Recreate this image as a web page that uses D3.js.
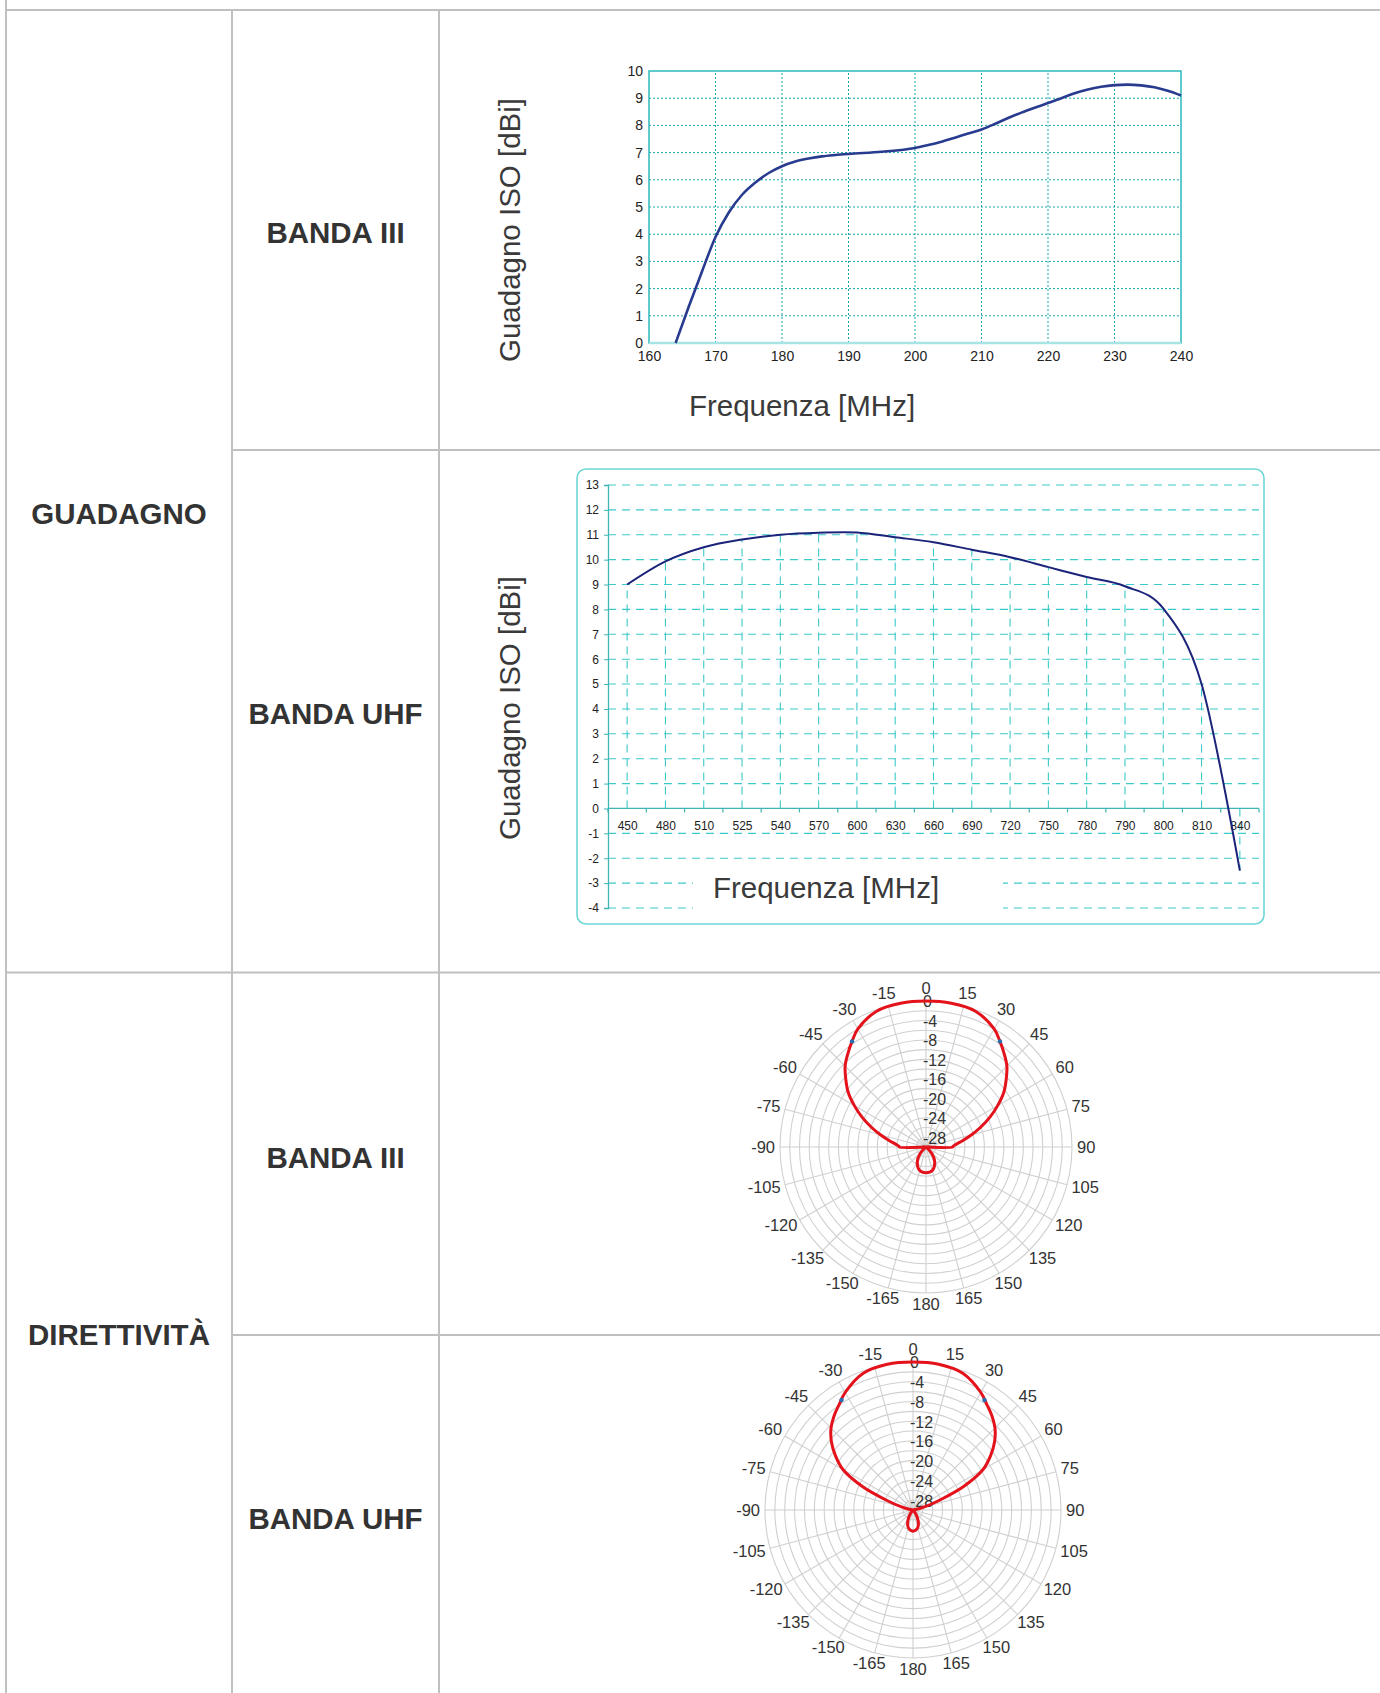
<!DOCTYPE html>
<html><head><meta charset="utf-8">
<script src="https://cdn.jsdelivr.net/npm/d3@7"></script>
<style>body{margin:0;background:#fff}svg{display:block}</style>
</head><body>
<svg id="c" width="1380" height="1693"></svg>
<script>
// ---------- DATA ----------
const bandIIIFreq = [164, 166, 168, 170, 172, 174, 176, 178, 180, 182, 184, 186, 188, 190, 195, 200, 202, 204, 206, 208, 210, 212, 214, 216, 218, 220, 222, 224, 226, 228, 230, 232, 234, 236, 238, 240];
const bandIIIGain = [0, 1.35, 2.65, 3.9, 4.8, 5.45, 5.9, 6.25, 6.5, 6.67, 6.78, 6.86, 6.91, 6.95, 7.03, 7.17, 7.28, 7.4, 7.55, 7.7, 7.85, 8.05, 8.27, 8.47, 8.65, 8.82, 9.0, 9.18, 9.32, 9.42, 9.48, 9.5, 9.47, 9.4, 9.27, 9.1];
const bandIIIXTicks = [160, 170, 180, 190, 200, 210, 220, 230, 240];
const bandIIIYTicks = [0, 1, 2, 3, 4, 5, 6, 7, 8, 9, 10];

const uhfFreqCats = ["450", "480", "510", "525", "540", "570", "600", "630", "660", "690", "720", "750", "780", "790", "800", "810", "840"];
const uhfGain = [9.0, 9.93, 10.5, 10.81, 11.0, 11.08, 11.09, 10.9, 10.7, 10.4, 10.1, 9.7, 9.3, 8.93, 8.04, 5.0, -2.5];
const uhfYTicks = [-4, -3, -2, -1, 0, 1, 2, 3, 4, 5, 6, 7, 8, 9, 10, 11, 12, 13];

const polarAngleLabels = [0, 15, 30, 45, 60, 75, 90, 105, 120, 135, 150, 165, 180, -165, -150, -135, -120, -105, -90, -75, -60, -45, -30, -15];
const polarRings = [-28, -26, -24, -22, -20, -18, -16, -14, -12, -10, -8, -6, -4, -2, 0];
const polarRingLabels = [0, -4, -8, -12, -16, -20, -24, -28];

// [angle deg, level dB]
const bandIIIPattern = [[-180, -24.7], [-165, -25], [-150, -26.4], [-138, -28.2], [-125, -30], [-90, -30], [-90, -24.5], [-89, -24.5], [-85, -23.8], [-80, -22.3], [-75, -20.3], [-70, -18], [-65, -15.5], [-60, -13], [-55, -10.5], [-50, -8.5], [-45, -6.5], [-40, -5], [-35, -3.5], [-30, -2], [-20, -0.3], [-10, 0], [0, 0], [10, 0], [20, -0.3], [30, -2], [35, -3.5], [40, -5], [45, -6.5], [50, -8.5], [55, -10.5], [60, -13], [65, -15.5], [70, -18], [75, -20.3], [80, -22.3], [85, -23.8], [89, -24.5], [90, -24.5], [90, -30], [125, -30], [138, -28.2], [150, -26.4], [165, -25]];
const bandIIIMarkers = [[-35, -3.5], [35, -3.5]];

const uhfPattern = [[-180, -25.7], [-165, -26.3], [-155, -27.5], [-145, -29], [-130, -30], [-90, -30], [-80, -29.2], [-75, -27.6], [-70, -24.5], [-65, -18.6], [-60, -13.6], [-55, -10.8], [-50, -8.4], [-45, -6.5], [-40, -5.1], [-35, -3.9], [-30, -2.5], [-20, -0.5], [-10, 0], [0, 0], [10, 0], [20, -0.5], [30, -2.5], [35, -3.9], [40, -5.1], [45, -6.5], [50, -8.4], [55, -10.8], [60, -13.6], [65, -18.6], [70, -24.5], [75, -27.6], [80, -29.2], [90, -30], [130, -30], [145, -29], [155, -27.5], [165, -26.3]];
const uhfMarkers = [[-33, -3.4], [33, -3.4]];

// ---------- DRAW ----------
const svg = d3.select('#c');
const FONT = 'Liberation Sans, Arial, Helvetica, sans-serif';
const fmt = d => String(d);
svg.append('rect').attr('width', 1380).attr('height', 1693).attr('fill', '#fff');

// table grid
const tbl = svg.append('g').attr('stroke', '#c0c0c0').attr('stroke-width', 2).attr('fill', 'none');
tbl.append('line').attr('x1', 6).attr('x2', 1380).attr('y1', 10).attr('y2', 10);
tbl.append('line').attr('x1', 6).attr('x2', 6).attr('y1', 0).attr('y2', 1693);
tbl.append('line').attr('x1', 232).attr('x2', 232).attr('y1', 10).attr('y2', 1693);
tbl.append('line').attr('x1', 439).attr('x2', 439).attr('y1', 10).attr('y2', 1693);
tbl.append('line').attr('x1', 232).attr('x2', 1380).attr('y1', 450).attr('y2', 450);
tbl.append('line').attr('x1', 6).attr('x2', 1380).attr('y1', 972.5).attr('y2', 972.5);
tbl.append('line').attr('x1', 232).attr('x2', 1380).attr('y1', 1335).attr('y2', 1335);

const cellLabels = [
  {t: 'GUADAGNO', x: 119, y: 524},
  {t: 'DIRETTIVITÀ', x: 119, y: 1345},
  {t: 'BANDA III', x: 335.5, y: 243},
  {t: 'BANDA UHF', x: 335.5, y: 724},
  {t: 'BANDA III', x: 335.5, y: 1168},
  {t: 'BANDA UHF', x: 335.5, y: 1529}
];
svg.selectAll('text.cell').data(cellLabels).join('text').attr('class', 'cell')
  .attr('x', d => d.x).attr('y', d => d.y).attr('text-anchor', 'middle')
  .attr('font-family', FONT).attr('font-weight', 'bold').attr('font-size', 29.5).attr('fill', '#333')
  .text(d => d.t);

// ---------- Chart 1: Banda III gain ----------
{
  const x = d3.scaleLinear().domain([160, 240]).range([649, 1181]);
  const y = d3.scaleLinear().domain([0, 10]).range([343, 71]);
  const g = svg.append('g');
  g.selectAll('line.vg').data(bandIIIXTicks.slice(1, -1)).join('line')
    .attr('x1', d => x(d)).attr('x2', d => x(d)).attr('y1', y(0)).attr('y2', y(10))
    .attr('stroke', '#1aa5a8').attr('stroke-width', 1).attr('stroke-dasharray', '2,2');
  g.selectAll('line.hg').data(bandIIIYTicks.slice(1, -1)).join('line')
    .attr('x1', x(160)).attr('x2', x(240)).attr('y1', d => y(d)).attr('y2', d => y(d))
    .attr('stroke', '#1aa5a8').attr('stroke-width', 1).attr('stroke-dasharray', '2,2');
  g.append('rect').attr('x', x(160)).attr('y', y(10)).attr('width', x(240) - x(160)).attr('height', y(0) - y(10))
    .attr('fill', 'none').attr('stroke', '#2bb8bb').attr('stroke-width', 1.5);
  g.append('line').attr('x1', x(160)).attr('x2', x(240)).attr('y1', y(0)).attr('y2', y(0))
    .attr('stroke', '#a8e4e4').attr('stroke-width', 2.5);
  const ya = g.append('g').attr('transform', `translate(${x(160)},0)`)
    .call(d3.axisLeft(y).tickValues(bandIIIYTicks).tickSize(0).tickPadding(6).tickFormat(fmt));
  const xa = g.append('g').attr('transform', `translate(0,${y(0)})`)
    .call(d3.axisBottom(x).tickValues(bandIIIXTicks).tickSize(0).tickPadding(8).tickFormat(fmt));
  [ya, xa].forEach(a => { a.select('.domain').remove(); a.selectAll('text').attr('font-family', FONT).attr('font-size', 14).attr('fill', '#222'); });
  const pts = bandIIIFreq.map((f, i) => [f, bandIIIGain[i]]);
  g.append('path').datum(pts)
    .attr('d', d3.line().x(d => x(d[0])).y(d => y(d[1])).curve(d3.curveMonotoneX))
    .attr('fill', 'none').attr('stroke', '#283b8f').attr('stroke-width', 2.6);
  g.append('text').attr('x', 802).attr('y', 416).attr('text-anchor', 'middle')
    .attr('font-family', FONT).attr('font-size', 29.5).attr('fill', '#3a3a3a').text('Frequenza [MHz]');
  g.append('text').attr('transform', 'translate(520,230) rotate(-90)').attr('text-anchor', 'middle')
    .attr('font-family', FONT).attr('font-size', 29.5).attr('fill', '#3a3a3a').text('Guadagno ISO [dBi]');
}

// ---------- Chart 2: UHF gain ----------
{
  const xb = d3.scaleBand().domain(uhfFreqCats).range([608, 1259]);
  const xp = d3.scalePoint().domain(uhfFreqCats).range([608, 1259]).padding(0.5);
  const y = d3.scaleLinear().domain([-4, 13]).range([908, 485]);
  const g = svg.append('g');
  g.append('rect').attr('x', 577).attr('y', 469).attr('width', 687).attr('height', 455).attr('rx', 9)
    .attr('fill', '#fff').attr('stroke', '#6fd6d6').attr('stroke-width', 1.6);
  g.selectAll('line.hg').data(uhfYTicks.filter(d => d !== 0)).join('line')
    .attr('x1', xb.range()[0]).attr('x2', xb.range()[1]).attr('y1', d => y(d)).attr('y2', d => y(d))
    .attr('stroke', '#3cc9c9').attr('stroke-width', 1.1).attr('stroke-dasharray', '8,6');
  // drop lines
  g.selectAll('line.drop').data(uhfFreqCats).join('line')
    .attr('x1', d => xp(d)).attr('x2', d => xp(d))
    .attr('y1', y(0)).attr('y2', (d, i) => y(uhfGain[i]))
    .attr('stroke', '#3cc9c9').attr('stroke-width', 1.1).attr('stroke-dasharray', '8,6');
  // label background
  g.append('rect').attr('x', 693).attr('y', 866).attr('width', 310).attr('height', 52).attr('fill', '#fff');
  g.append('text').attr('x', 826).attr('y', 898).attr('text-anchor', 'middle')
    .attr('font-family', FONT).attr('font-size', 29.5).attr('fill', '#3a3a3a').text('Frequenza [MHz]');
  const ya = g.append('g').attr('transform', `translate(608,0)`)
    .call(d3.axisLeft(y).tickValues(uhfYTicks).tickSize(4).tickPadding(5).tickFormat(fmt));
  ya.select('.domain').attr('stroke', '#3fb5b5').attr('stroke-width', 1.3);
  ya.selectAll('.tick line').attr('stroke', '#3fb5b5');
  ya.selectAll('text').attr('font-family', FONT).attr('font-size', 12).attr('fill', '#222');
  g.append('line').attr('x1', 608).attr('x2', 1259).attr('y1', y(0)).attr('y2', y(0))
    .attr('stroke', '#3fb5b5').attr('stroke-width', 1.3);
  g.selectAll('line.bt').data(uhfFreqCats.concat(['end'])).join('line')
    .attr('x1', d => d === 'end' ? xb.range()[1] : xb(d)).attr('x2', d => d === 'end' ? xb.range()[1] : xb(d))
    .attr('y1', y(0)).attr('y2', y(0) + 4).attr('stroke', '#3fb5b5').attr('stroke-width', 1.2);
  const xa = g.append('g').attr('transform', `translate(0,${y(0)})`)
    .call(d3.axisBottom(xp).tickSize(0).tickPadding(13));
  xa.select('.domain').remove();
  xa.selectAll('text').attr('font-family', FONT).attr('font-size', 12).attr('fill', '#222');
  const pts = uhfFreqCats.map((c, i) => [xp(c), y(uhfGain[i])]);
  g.append('path').datum(pts).attr('d', d3.line().curve(d3.curveCardinal.tension(0)))
    .attr('fill', 'none').attr('stroke', '#1b237a').attr('stroke-width', 2);
  g.append('text').attr('transform', 'translate(520,708) rotate(-90)').attr('text-anchor', 'middle')
    .attr('font-family', FONT).attr('font-size', 29.5).attr('fill', '#3a3a3a').text('Guadagno ISO [dBi]');
}

// ---------- Polar charts ----------
function drawPolar(cx, cy, R, pattern, markers) {
  const g = svg.append('g').attr('transform', `translate(${cx},${cy})`);
  const r = d3.scaleLinear().domain([-30, 0]).range([0, R]).clamp(true);
  const a = d3.scaleLinear().domain([0, 180]).range([0, Math.PI]);
  g.selectAll('circle.ring').data(polarRings).join('circle')
    .attr('r', d => r(d)).attr('fill', 'none').attr('stroke', '#d0d0d0').attr('stroke-width', 1.1);
  g.selectAll('line.spoke').data(polarAngleLabels).join('line')
    .attr('x1', 0).attr('y1', 0)
    .attr('x2', d => R * Math.sin(a(d))).attr('y2', d => -R * Math.cos(a(d)))
    .attr('stroke', '#d0d0d0').attr('stroke-width', 1.1);
  const pad = 5;
  g.selectAll('text.al').data(polarAngleLabels).join('text')
    .attr('font-family', FONT).attr('font-size', 16.5).attr('fill', '#333')
    .attr('text-anchor', 'middle').attr('dy', '0.35em').text(fmt)
    .each(function (d) {
      const w = this.getComputedTextLength();
      const s = Math.sin(a(d)), c = Math.cos(a(d));
      const h = c > 0 ? 16 : 12;
      d3.select(this).attr('x', (R + pad) * s + s * w / 2).attr('y', -(R + pad) * c - c * h / 2);
    });
  g.selectAll('text.rl').data(polarRingLabels).join('text')
    .attr('x', -3).attr('y', d => -r(d)).attr('dy', '0.4em')
    .attr('font-family', FONT).attr('font-size', 16).attr('fill', '#333').text(fmt);
  g.append('path').datum(pattern)
    .attr('d', d3.lineRadial().angle(d => a(d[0])).radius(d => r(d[1])).curve(d3.curveCatmullRomClosed.alpha(0.5)))
    .attr('fill', 'none').attr('stroke', '#e3121b').attr('stroke-width', 3);
  g.selectAll('circle.mk').data(markers).join('circle')
    .attr('cx', d => r(d[1]) * Math.sin(a(d[0]))).attr('cy', d => -r(d[1]) * Math.cos(a(d[0])))
    .attr('r', 2.2).attr('fill', '#2a6cb0');
}
drawPolar(926, 1147, 146, bandIIIPattern, bandIIIMarkers);
drawPolar(913, 1510, 148, uhfPattern, uhfMarkers);
</script>
</body></html>
